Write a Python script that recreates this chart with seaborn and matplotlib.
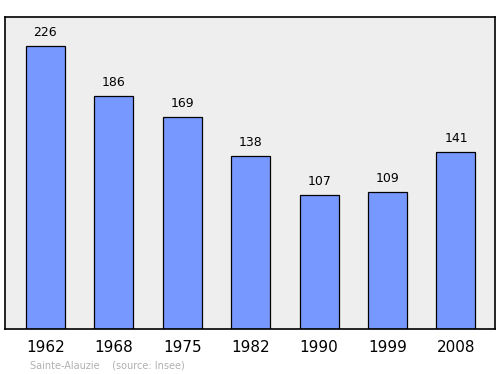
import matplotlib
matplotlib.use("Agg")
import matplotlib.pyplot as plt
import seaborn as sns
import pandas as pd

years = ["1962", "1968", "1975", "1982", "1990", "1999", "2008"]
population = [226, 186, 169, 138, 107, 109, 141]
commune = "Sainte-Alauzie"
source = "(source: Insee)"

df = pd.DataFrame({"year": years, "pop": population})

fig = plt.figure(figsize=(5, 3.74), dpi=100)
ax = fig.add_axes([0.01, 0.1203, 0.98, 0.8342])
ax.set_facecolor("#eeeeee")
sns.barplot(data=df, x="year", y="pop", color="#7799ff", saturation=1,
            edgecolor="black", linewidth=0.9, width=0.57, ax=ax)
ax.set_xlim(-0.59, 6.57)
ax.set_ylim(0, 249)
for i, v in enumerate(population):
    ax.annotate(str(v), (i, v), xytext=(0, 5), textcoords="offset points",
                ha="center", va="bottom", fontsize=9, color="black")
ax.set_yticks([])
ax.set_xlabel("")
ax.set_ylabel("")
ax.tick_params(axis="x", length=0, labelsize=11, pad=8)
for s in ax.spines.values():
    s.set_color("black")
    s.set_linewidth(1.2)
fig.text(30/500, 1-365/374, commune + "    " + source, fontsize=7, color="#b0b0b0",
         ha="left", va="center")
fig.savefig("out.png", dpi=100)
